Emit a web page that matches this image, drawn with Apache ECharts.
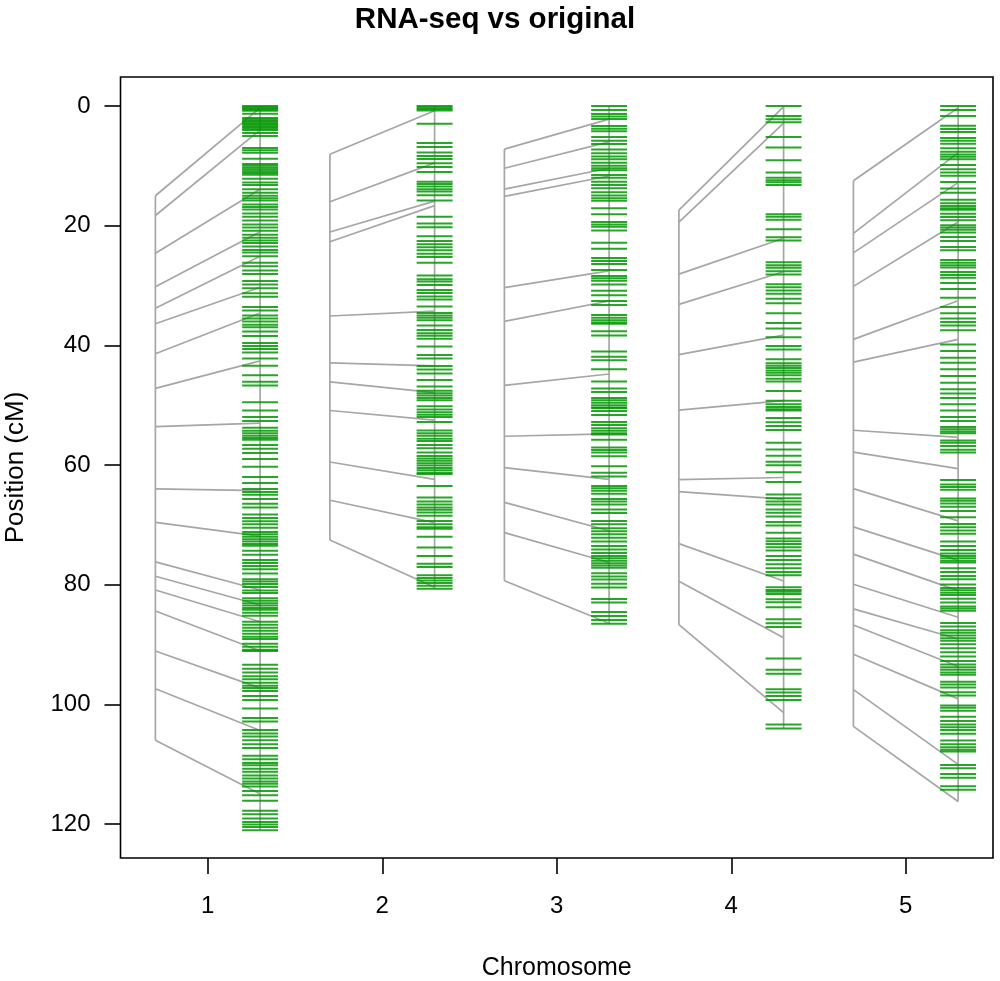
<!DOCTYPE html>
<html>
<head>
<meta charset="utf-8">
<title>RNA-seq vs original</title>
<script src="https://cdn.jsdelivr.net/npm/echarts@6/dist/echarts.min.js"></script>
<style>
html,body{margin:0;padding:0;background:#fff;}
#chart{width:1000px;height:981px;}
</style>
</head>
<body>
<div id="chart"></div>
<script>
const chromosomes = [1, 2, 3, 4, 5];
const positionTicks = [0, 20, 40, 60, 80, 100, 120];

// green marks, one list per chromosome (cM)
const chr1Markers = [0,0.2,0.4,0.6,0.8,1.3,2,2.25,2.5,2.75,3,3.25,3.5,3.75,4,4.5,5,7,7.4,7.8,8.8,9.7,10,10.3,10.6,10.9,11.2,11.5,12.15,12.8,13.2,13.9,14.5,15,15.4,15.8,16.45,16.9,17.3,17.95,18.5,19.15,19.8,20.3,20.85,21.5,22,22.5,22.9,23.5,24.05,24.5,25.1,26.2,26.8,27.5,28.1,29.25,29.85,30.45,31.3,31.9,33.6,34.2,35,35.5,36,36.55,37,37.7,38.45,39.6,40.1,40.6,41.2,42.2,43.4,45,46.1,46.7,49.5,50.9,52,52.65,53.8,54.3,54.7,55.1,55.5,55.8,56.65,57.3,58,59,60.3,62,63,64,64.5,65,65.7,66.5,67.1,68.3,68.85,69.4,69.9,70.5,71.2,71.6,72,72.4,72.8,73.2,73.5,74.35,75,75.9,76.4,76.9,77.45,78.15,79.1,79.5,79.9,80.4,81,81.4,82.3,82.7,83.1,83.5,83.9,84.2,84.7,85.2,86.2,86.7,87.2,87.7,88.2,88.7,89.1,89.9,90.4,90.9,91.1,93.4,94.05,94.7,95.3,95.8,96.4,96.9,97.3,97.8,98.6,99.3,100.7,102.3,102.9,104.3,104.9,105.4,106,106.7,107.3,108.6,109.2,109.8,110.2,110.8,111.3,111.9,112.4,112.9,113.3,113.75,114.5,115.2,116.15,117.8,118.4,119.1,119.7,120.1,120.5,121.05];
const chr2Markers = [0,0.25,0.5,0.75,2.95,6.2,6.85,7.75,8.35,8.85,9.55,10.2,11.05,12.65,13.05,13.45,13.9,14.3,14.9,15.8,18.5,19.65,20.25,21.75,22.55,23.1,23.6,24.1,24.7,25.25,26.2,28.35,28.95,29.35,29.9,30.75,31.25,31.85,32.35,33.5,34.6,35,35.4,35.8,36.7,37.45,38,38.4,38.9,40.2,41.6,42.2,43.45,44.05,44.7,45.8,46.9,47.6,48,48.4,48.8,49.2,50.2,50.75,51.2,51.6,52,52.8,54.25,54.7,55.1,55.6,56,56.65,57.2,57.9,58.5,58.9,59.3,59.7,60.1,60.5,60.9,61.3,61.5,63.5,65.45,66.1,66.6,67.1,67.5,67.95,68.5,69.35,69.9,70.4,70.65,72,73.8,75.2,76.5,77.05,78.45,78.9,79.3,79.75,80.2,80.7];
const chr3Markers = [0,0.65,1.35,1.75,2.15,3.35,3.8,4.2,5.2,5.8,6.35,7.25,7.9,8.45,8.9,9.5,10,10.4,10.75,11.55,12,12.65,13.2,13.75,14.4,14.95,15.4,15.85,17.1,18.1,19.4,19.8,20.2,20.8,22.85,23.85,25.4,25.9,26.4,27.4,28.4,28.8,29.2,29.85,30.9,31.65,32.6,33.25,34.95,35.4,35.8,36.2,36.4,37.65,38.35,41.05,41.9,42.5,44,46.05,47.2,47.8,48.8,49.2,49.6,50,50.4,50.5,51,51.65,52.8,53.3,53.85,54.3,54.7,54.9,55.8,57.1,57.5,57.9,58.55,60.2,61.3,61.95,63.5,63.9,64.3,64.8,65.7,66.1,66.6,67.45,68.05,69.35,69.9,70.6,71.1,71.6,72.15,72.8,73.55,74.15,74.7,75.2,75.6,76,76.45,76.8,77.2,78.1,78.65,79.15,79.85,80.5,82.4,83,84.6,85.25,85.9,86.55];
const chr4Markers = [0,1.65,2.2,2.7,5.2,6.95,9.05,11.1,12,12.4,12.75,13.2,18.1,18.5,19,20.6,21.95,22.5,26.1,26.6,27.05,27.6,28.15,29.8,30.3,30.85,31.4,32.2,32.95,34.65,36.25,37.2,38.65,40.1,40.7,42.35,43,43.4,43.8,44.2,44.6,45,45.6,46.05,47.65,49.25,49.85,50.3,50.7,50.9,52.15,52.85,53.5,54.15,56.3,57.4,58.45,59.45,60.05,61.2,62.85,64.95,65.55,66.1,66.6,67.45,68,68.6,69.55,70.1,71.35,72.3,72.75,73.2,73.75,74.3,75.2,75.9,76.6,77.25,77.9,78.45,80.45,80.9,81.2,81.55,82.45,82.95,83.8,85.8,86.45,87.1,92.35,94.25,94.9,97.5,98.05,98.6,99.3,103.4,104.05];
const chr5Markers = [0,0.65,1.65,3.3,3.85,4.35,5.35,5.8,6.3,7.05,7.65,8.1,8.5,8.9,9.85,10.55,11.1,11.65,12.7,13.8,14.5,15.65,16.25,16.7,17.1,17.35,18,18.55,19.1,19.95,20.3,20.7,21.15,21.9,22.55,23.55,24.1,25.75,26.2,26.6,27,27.75,28.25,28.7,29.6,30.6,32.05,33.6,34.65,35.5,36.1,36.7,37.5,39.85,40.95,42.1,42.9,44,45.15,46.25,47.35,48.05,48.8,49.85,50.9,52,52.65,53.65,54.05,54.4,54.7,55.9,56.3,56.85,57.45,57.9,62.5,63.25,63.7,64.15,65.6,66,66.45,67,67.7,68.75,69.85,70.4,70.95,71.5,72.8,73.55,74.2,74.8,75.2,75.6,76,76.3,77.25,77.9,78.55,79.1,80,80.55,80.95,81.35,81.75,82.35,83,83.65,84,84.35,86.4,87,87.65,88.05,88.5,88.95,89.4,89.95,90.65,91.3,92,92.75,93.35,93.8,94.25,94.7,95.05,96.25,96.7,97.2,98,98.55,100.2,100.6,101.1,102.1,102.8,103.4,103.85,104.3,104.95,106.05,106.7,107.2,107.6,107.9,110.15,110.7,111.65,112.3,113.7,114.3];

// grey links: position on the left map and the same marker on the right map
const chr1Left = [15,18.3,24.6,30.2,33.8,36.4,41.4,47.2,53.6,64,69.6,76.2,78.6,80.9,84.4,91.1,97.4,106];
const chr1Right = [0.3,4,13.9,21,25.1,30.3,34.6,42.6,53,64.3,71.9,80.9,83.4,86.2,91.1,97.3,104.4,115];
const chr2Left = [8.05,16,21.05,22.7,35.1,42.95,46.1,50.9,59.5,65.9,72.55];
const chr2Right = [0.8,9.5,15.9,16.65,34.3,43.45,47.9,52.5,62.4,69.65,80.45];
const chr3Left = [7.2,10.4,13.9,15.1,30.35,36,46.7,55.2,60.45,66.25,71.3,79.35];
const chr3Right = [2.2,6,10.4,11.7,27.55,32.6,44.8,54.8,62.4,71,76.3,86.45];
const chr4Left = [17.4,19.4,28.1,33.15,41.55,50.85,62.45,64.45,73.15,79.45,86.7];
const chr4Right = [0.1,2.85,22.1,27.7,38.3,49.25,62.1,65.7,79.4,88.9,101.4];
const chr5Left = [12.5,21.3,24.55,30.15,39,42.8,54.2,57.85,63.95,70.35,74.9,79.95,84.05,86.75,91.65,97.55,103.7];
const chr5Right = [0.3,7.8,12.8,19.4,32.55,39,55.4,60.6,69.35,75.95,81,85.45,89.1,93.7,99.1,110.05,116.25];

// bottom end of each right hand map
const rightMapEnds = [121.05,80.7,86.55,104.05,116.25];

const allMarkers = [chr1Markers, chr2Markers, chr3Markers, chr4Markers, chr5Markers];
const allLeft = [chr1Left, chr2Left, chr3Left, chr4Left, chr5Left];
const allRight = [chr1Right, chr2Right, chr3Right, chr4Right, chr5Right];

const GREY = '#a6a6a6';
const GREEN = '#009600';
const MAP_OFFSET = 0.3;
const MARKER_HALF = 0.103;

let markerData = [];
let segData = [];
chromosomes.forEach((chr, i) => {
    allMarkers[i].forEach(v => markerData.push([chr + MAP_OFFSET - MARKER_HALF, v, chr + MAP_OFFSET + MARKER_HALF, v]));
    let left = allLeft[i], right = allRight[i];
    // the two map backbones
    segData.push([chr - MAP_OFFSET, left[0], chr - MAP_OFFSET, left[left.length - 1]]);
    segData.push([chr + MAP_OFFSET, 0, chr + MAP_OFFSET, rightMapEnds[i]]);
    left.forEach((v, k) => segData.push([chr - MAP_OFFSET, v, chr + MAP_OFFSET, right[k]]));
});

function segmentItem(style) {
    return function (params, api) {
        let a = api.coord([api.value(0), api.value(1)]);
        let b = api.coord([api.value(2), api.value(3)]);
        return {
            type: 'line',
            shape: { x1: a[0], y1: a[1], x2: b[0], y2: b[1] },
            style: style
        };
    };
}

const myChart = echarts.init(document.getElementById('chart'), null, { renderer: 'canvas' });
const FONT = '"Liberation Sans", Arial, sans-serif';
myChart.setOption({
    animation: false,
    backgroundColor: '#fff',
    title: {
        text: 'RNA-seq vs original',
        left: 490,
        top: 0,
        textAlign: 'center',
        textStyle: { fontFamily: FONT, fontSize: 29.5, fontWeight: 'bold', color: '#000' }
    },
    grid: { left: 120.5, top: 77, width: 872.5, height: 781, outerBoundsMode: 'none', show: true, borderColor: '#000', borderWidth: 1.6, backgroundColor: '#fff' },
    xAxis: {
        type: 'value',
        min: 0.5,
        max: 5.5,
        name: 'Chromosome',
        nameLocation: 'middle',
        nameGap: 98,
        nameTextStyle: { fontFamily: FONT, fontSize: 25, color: '#000' },
        splitLine: { show: false },
        axisLine: { show: false, onZero: false },
        axisTick: { show: true, length: 16, customValues: chromosomes, lineStyle: { color: '#000', width: 1.6 } },
        axisLabel: { show: true, customValues: chromosomes, margin: 36, fontFamily: FONT, fontSize: 24, color: '#000', formatter: v => String(v) }
    },
    yAxis: {
        type: 'value',
        inverse: true,
        min: -4.85,
        max: 125.7,
        name: 'Position (cM)',
        nameLocation: 'middle',
        nameGap: 92,
        nameRotate: 90,
        nameTextStyle: { fontFamily: FONT, fontSize: 26, color: '#000' },
        splitLine: { show: false },
        axisLine: { show: false, onZero: false },
        axisTick: { show: true, length: 16, customValues: positionTicks, lineStyle: { color: '#000', width: 1.6 } },
        axisLabel: { show: true, customValues: positionTicks, margin: 30, fontFamily: FONT, fontSize: 24, color: '#000', formatter: v => String(v) }
    },
    series: [
        {
            type: 'custom',
            name: 'links',
            silent: true,
            renderItem: segmentItem({ stroke: GREY, lineWidth: 1.7, fill: null }),
            data: segData
        },
        {
            type: 'custom',
            name: 'markers',
            silent: true,
            renderItem: segmentItem({ stroke: GREEN, lineWidth: 2, opacity: 0.85, fill: null }),
            data: markerData
        }
    ]
});
</script>
</body>
</html>
